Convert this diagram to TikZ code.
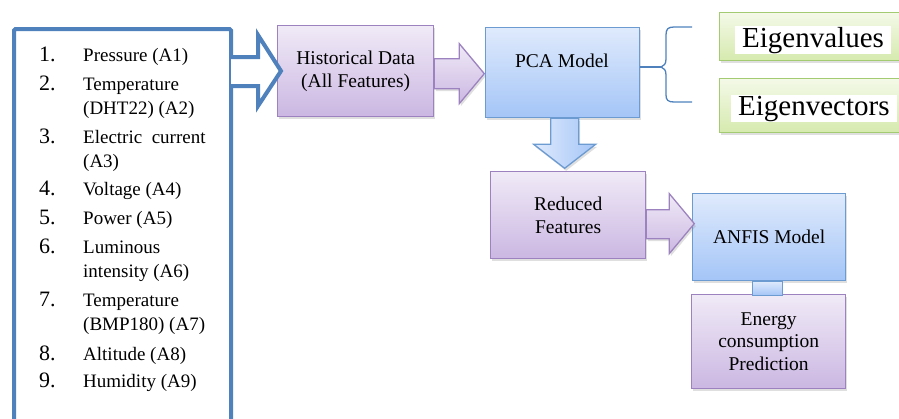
\documentclass[tikz,border=0pt]{standalone}
\usepackage{fontspec}
\setmainfont{Liberation Serif}
\usetikzlibrary{calc}
\usetikzlibrary{shadows}

\definecolor{listblue}{HTML}{4F81BD}
\definecolor{pcaline}{HTML}{6C9BD2}
\definecolor{pcatop}{HTML}{DFEAFC}
\definecolor{pcabot}{HTML}{A4C5F7}
\definecolor{purpline}{HTML}{9C82BE}
\definecolor{purptop}{HTML}{F0EAF7}
\definecolor{purpbot}{HTML}{CBB7E2}
\definecolor{greenline}{HTML}{A3CC72}
\definecolor{greentop}{HTML}{F4F9E8}
\definecolor{greenbot}{HTML}{D6EAAE}

\newcommand{\twoline}[2]{\begin{tabular}[t]{@{}l@{}}#1\\#2\end{tabular}}

\begin{document}
\begin{tikzpicture}[x=1pt, y=-1pt,
  boxfont/.style={font=\fontsize{19.5}{22.5}\selectfont},
  shade/.style={drop shadow={opacity=0.25, shadow xshift=1.5pt, shadow yshift=-2.5pt}},
  purplebox/.style={draw=purpline, line width=1.3pt, top color=purptop, bottom color=purpbot, align=center, boxfont, shade, anchor=north west},
  bluebox/.style={draw=pcaline, line width=1.3pt, top color=pcatop, bottom color=pcabot, align=center, boxfont, shade, anchor=north west},
  greenbox/.style={draw=greenline, line width=1.3pt, top color=greentop, bottom color=greenbot, shade, anchor=north west},
  eigentext/.style={fill=white, inner xsep=7pt, inner ysep=1pt, anchor=base west, font=\fontsize{29}{30}\selectfont},
  purparrow/.style={draw=purpline, line width=1.3pt, top color=purptop, bottom color=purpbot, shade},
  bluearrow/.style={draw=pcaline, line width=1.3pt, left color=pcatop, right color=pcabot, shade}
]
\useasboundingbox (0,0) rectangle (899,418);
\clip (0,0) rectangle (899,418);

% feature list
\node[draw=listblue, line width=4pt, rounded corners=1.5pt, minimum width=217, minimum height=420, anchor=north west] (list) at (12,27) {};
\foreach \n/\y/\txt in {1/61/{Pressure (A1)}, 2/90/{\twoline{Temperature}{(DHT22) (A2)}}, 3/143/{\twoline{Electric\ \ current}{(A3)}}, 4/195/{Voltage (A4)}, 5/224/{Power (A5)}, 6/253/{\twoline{Luminous}{intensity (A6)}}, 7/306/{\twoline{Temperature}{(BMP180) (A7)}}, 8/360/{Altitude (A8)}, 9/387/{Humidity (A9)}} {
 \node[anchor=base west, inner sep=0, font=\fontsize{22}{24}\selectfont] (num\n) at (39,\y) {\n.};
 \node[anchor=base west, inner sep=0, font=\fontsize{19}{24}\selectfont] (item\n) at (83,\y) {\txt};
}

% boxes
\node[purplebox, minimum width=156, minimum height=91] (hist) at (277,25) {Historical Data\\(All Features)};
\node[bluebox, minimum width=154, minimum height=90] (pca) at (485,27) {};
\node[anchor=base, boxfont] (pcatxt) at (562,67) {PCA Model};
\node[purplebox, minimum width=155, minimum height=87] (red) at (490,171) {Reduced\\Features};
\node[bluebox, minimum width=153, minimum height=87] (anfis) at (692,193) {ANFIS Model};
\node[purplebox, minimum width=154, minimum height=94] (energy) at (691,294) {Energy\\consumption\\Prediction};
\node[greenbox, minimum width=200, minimum height=48] (evalbox) at (719,12) {};
\node[eigentext] (evaltxt) at (735,47) {Eigenvalues};
\node[greenbox, minimum width=200, minimum height=54] (evecbox) at (719,78) {};
\node[eigentext] (evectxt) at (731,115) {Eigenvectors};

% block arrows
\draw[listblue, line width=4pt, fill=white] (list.north east) ++(-2,30) -- ++(27,0) -- ++(0,-22) -- ++(23,36) -- ++(-23,35) -- ++(0,-20) -- ++(-27,0);
\draw[purparrow] (hist.east) ++(0,-12.5) -- ++(25,0) -- ++(0,-15) -- ++(25,30) -- ++(-25,30) -- ++(0,-15) -- ++(-25,0) -- cycle;
\draw[bluearrow] (pca.south) ++(-12,0) -- ++(0,26) -- ++(-17,0) -- ++(31,24) -- ++(31,-24) -- ++(-17,0) -- ++(0,-26) -- cycle;
\draw[purparrow] (red.east) ++(0,-5.5) -- ++(23,0) -- ++(0,-16) -- ++(25,30) -- ++(-25,30) -- ++(0,-15) -- ++(-23,0) -- cycle;
\draw[draw=pcaline, line width=1.3pt, top color=pcatop, bottom color=pcabot] (anfis.south) ++(-16.5,0) rectangle ++(30,14);

% brace to the eigen boxes
\coordinate (cusp) at (661,67);
\draw[listblue, line width=1.3pt] (pca.east |- cusp) -- (cusp);
\draw[listblue, line width=1.3pt] (692,27) -- (674,27) .. controls (668,27) and (666,29) .. (666,35) -- (666,59) .. controls (666,64) and (664,66) .. (cusp) .. controls (664,68) and (666,70) .. (666,75) -- (666,95) .. controls (666,100) and (668,102) .. (674,102) -- (692,102);
\end{tikzpicture}
\end{document}
